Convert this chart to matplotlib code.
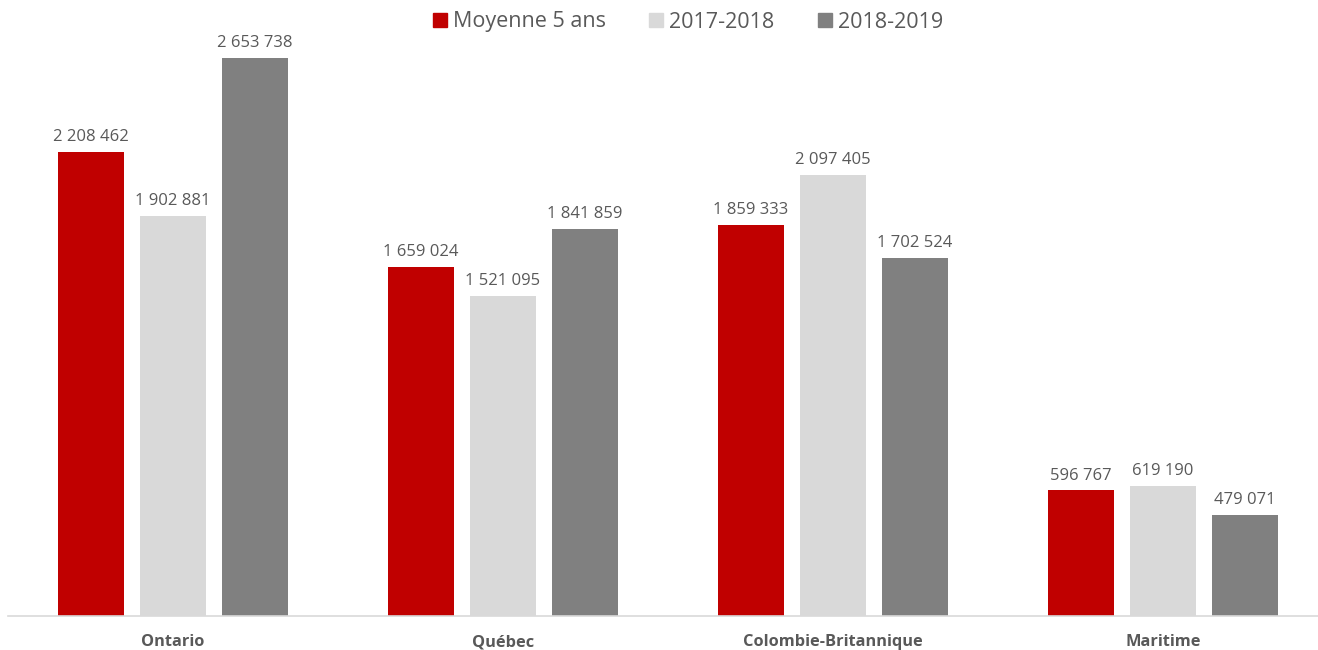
import numpy as np
import matplotlib.pyplot as plt
from matplotlib.patches import Patch

regions = ['Ontario', 'Québec', 'Colombie-Britannique', 'Maritime']
series = ['Moyenne 5 ans', '2017-2018', '2018-2019']
moyenne = [2208462, 1659024, 1859333, 596767]
y2017 = [1902881, 1521095, 2097405, 619190]
y2018 = [2653738, 1841859, 1702524, 479071]
colors = ['#C00000', '#D9D9D9', '#808080']

txt = '#595959'
plt.rcParams['font.family'] = ['Open Sans', 'DejaVu Sans']

fig = plt.figure(figsize=(13.18, 6.5), dpi=100)
ax = fig.add_axes([8 / 1318, 34 / 650, 1310 / 1318, 616 / 650])

x = np.arange(len(regions))
width = 0.2
step = 0.2485

for i, (vals, col) in enumerate(zip([moyenne, y2017, y2018], colors)):
    pos = x + (i - 1) * step
    ax.bar(pos, vals, width, color=col, label=series[i])
    for p, v in zip(pos, vals):
        lab = f'{v:,}'.replace(',', ' ')
        ax.annotate(lab, (p, v), xytext=(0, 5), textcoords='offset points',
                    ha='center', va='bottom', fontsize=12, color=txt)

ax.set_xlim(-0.5, -0.5 + 1310 / 330)
ax.set_ylim(0, 616 / 210.3 * 1e6)
ax.set_xticks(x)
ax.set_xticklabels(regions, fontsize=11.8, fontweight='bold', color=txt)
ax.tick_params(axis='x', length=0, pad=13)
ax.set_yticks([])
for s in ['top', 'right', 'left']:
    ax.spines[s].set_visible(False)
ax.spines['bottom'].set_color('#D9D9D9')
ax.spines['bottom'].set_linewidth(1.2)
ax.spines['bottom'].set_bounds(-0.5, -0.5 + 1310 / 330)

handles = [Patch(color=c) for c in colors]
leg = fig.legend(handles, series, loc='center', bbox_to_anchor=(688 / 1318, 1 - 22 / 650),
                 ncol=3, frameon=False, fontsize=15.5, handlelength=0.65, handleheight=0.65,
                 handletextpad=0.3, columnspacing=2.0)
for t in leg.get_texts():
    t.set_color(txt)

fig.savefig('out.png', dpi=100)
